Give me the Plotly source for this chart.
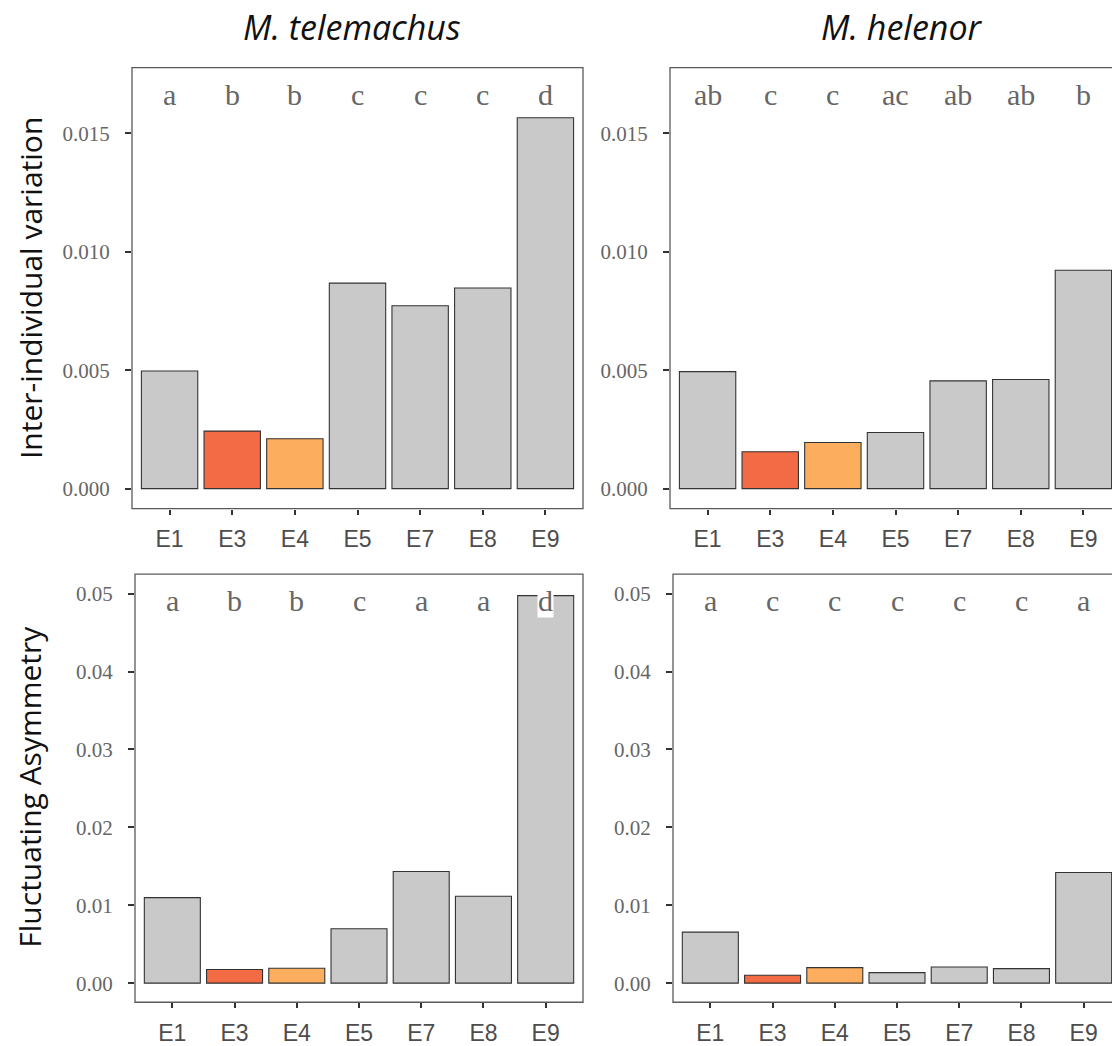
import plotly.graph_objects as go

# ---------------- data ----------------
categories = ["E1", "E3", "E4", "E5", "E7", "E8", "E9"]

species = ["M. telemachus", "M. helenor"]
row_titles = ["Inter-individual variation", "Fluctuating Asymmetry"]

# Inter-individual variation
iv_telemachus = [0.00497, 0.00243, 0.00211, 0.00868, 0.00772, 0.00847, 0.01566]
iv_helenor = [0.00494, 0.00156, 0.00195, 0.00237, 0.00455, 0.00461, 0.00922]
# Fluctuating asymmetry
fa_telemachus = [0.01098, 0.00175, 0.00191, 0.00698, 0.01434, 0.01115, 0.04974]
fa_helenor = [0.00655, 0.00101, 0.00199, 0.00135, 0.00207, 0.00186, 0.01420]

# significance letters
let_iv_telemachus = ["a", "b", "b", "c", "c", "c", "d"]
let_iv_helenor = ["ab", "c", "c", "ac", "ab", "ab", "b"]
let_fa_telemachus = ["a", "b", "b", "c", "a", "a", "d"]
let_fa_helenor = ["a", "c", "c", "c", "c", "c", "a"]

# letter heights (per row)
letter_y_iv = 0.01665
letter_y_fa = 0.0491

iv_ticks = [0.0, 0.005, 0.010, 0.015]
fa_ticks = [0.0, 0.01, 0.02, 0.03, 0.04, 0.05]

# ---------------- style ----------------
W, H = 1112, 1046
highlight = {"E3": "#F26B45", "E4": "#FCAD5E"}
grey_fill = "#C9C9C9"
bar_line = "#333333"
border_col = "#5a5a5a"
tick_col = "#333333"
serif = "Liberation Serif, Times New Roman, serif"
sans = "Liberation Sans, Arial, sans-serif"
title_font = "Open Sans, sans-serif"

colors = [highlight.get(c, grey_fill) for c in categories]

# panel pixel boxes: (left, right_full, top, bottom)
panels = [
    dict(vals=iv_telemachus, letters=let_iv_telemachus, ly=letter_y_iv, box=(132, 583, 68, 512), row=0),
    dict(vals=iv_helenor, letters=let_iv_helenor, ly=letter_y_iv, box=(670, 1121, 68, 512), row=0),
    dict(vals=fa_telemachus, letters=let_fa_telemachus, ly=letter_y_fa, box=(135, 583, 578, 1009), row=1),
    dict(vals=fa_helenor, letters=let_fa_helenor, ly=letter_y_fa, box=(673, 1121, 578, 1009), row=1),
]

row_ranges = [[-0.00084, 0.01778], [-0.00245, 0.05250]]
row_ticks = [iv_ticks, fa_ticks]
row_fmt = [".3f", ".2f"]

fig = go.Figure()
shapes = []
annotations = []

for i, p in enumerate(panels):
    n = i + 1
    xa = "x" if n == 1 else f"x{n}"
    ya = "y" if n == 1 else f"y{n}"
    l, r_full, t, b = p["box"]
    r_vis = min(r_full, W)
    frac = (r_vis - l) / (r_full - l)
    full_range = [-0.6, len(categories) - 0.4]
    xr = [full_range[0], full_range[0] + (full_range[1] - full_range[0]) * frac]

    fig.add_trace(go.Bar(
        x=categories, y=p["vals"], xaxis=xa, yaxis=ya,
        marker=dict(color=colors, line=dict(color=bar_line, width=1.1)),
        width=0.9, showlegend=False, hoverinfo="x+y",
    ))

    xkey = "xaxis" if n == 1 else f"xaxis{n}"
    ykey = "yaxis" if n == 1 else f"yaxis{n}"
    fig.layout[xkey] = dict(
        domain=[l / W, r_vis / W], anchor=ya, type="category",
        categoryorder="array", categoryarray=categories,
        range=xr, showgrid=False, zeroline=False, showline=False,
        ticks="outside", ticklen=5, tickwidth=1.5, tickcolor=tick_col,
        ticklabelstandoff=5,
        tickfont=dict(family=sans, size=23, color="#4d4d4d"),
        fixedrange=True,
    )
    row = p["row"]
    fig.layout[ykey] = dict(
        domain=[1 - b / H, 1 - t / H], anchor=xa,
        range=row_ranges[row], tickvals=row_ticks[row], tickformat=row_fmt[row],
        showgrid=False, zeroline=False, showline=False,
        ticks="outside", ticklen=6, tickwidth=1.5, tickcolor=tick_col,
        ticklabelstandoff=11,
        tickfont=dict(family=serif, size=21, color="#666666"),
        fixedrange=True,
    )

    # panel border (extends past the page edge for the right column)
    shapes.append(dict(
        type="rect", xref=f"{xa} domain", yref=f"{ya} domain",
        x0=0, x1=1 / frac if frac < 1 else 1, y0=0, y1=1,
        line=dict(color=border_col, width=1.3), fillcolor="rgba(0,0,0,0)", layer="above",
    ))

    for c, lt in zip(categories, p["letters"]):
        annotations.append(dict(
            x=c, y=p["ly"], xref=xa, yref=ya, text=lt, showarrow=False,
            font=dict(family=serif, size=30, color="#666666"),
            xanchor="center", yanchor="middle", bgcolor="white", borderpad=0,
        ))

# column titles
for name, xc in zip(species, [352, 902]):
    annotations.append(dict(
        x=xc / W, y=1 - 27 / H, xref="paper", yref="paper", text=f"<i>{name}</i>",
        showarrow=False, font=dict(family=title_font, size=34, color="#111111"),
        xanchor="center", yanchor="middle",
    ))

# row titles
for name, yc in zip(row_titles, [290, 792]):
    annotations.append(dict(
        x=30 / W, y=1 - yc / H, xref="paper", yref="paper", text=name,
        showarrow=False, textangle=-90,
        font=dict(family=title_font, size=30, color="#111111"),
        xanchor="center", yanchor="middle",
    ))

fig.update_layout(
    width=W, height=H, autosize=False,
    margin=dict(l=0, r=0, t=0, b=0),
    paper_bgcolor="white", plot_bgcolor="white",
    bargap=0.1, shapes=shapes, annotations=annotations,
)

fig.write_html(
    "out.html",
    config={"displayModeBar": False},
    post_script="document.body.style.margin='0';document.body.style.overflow='hidden';",
)
